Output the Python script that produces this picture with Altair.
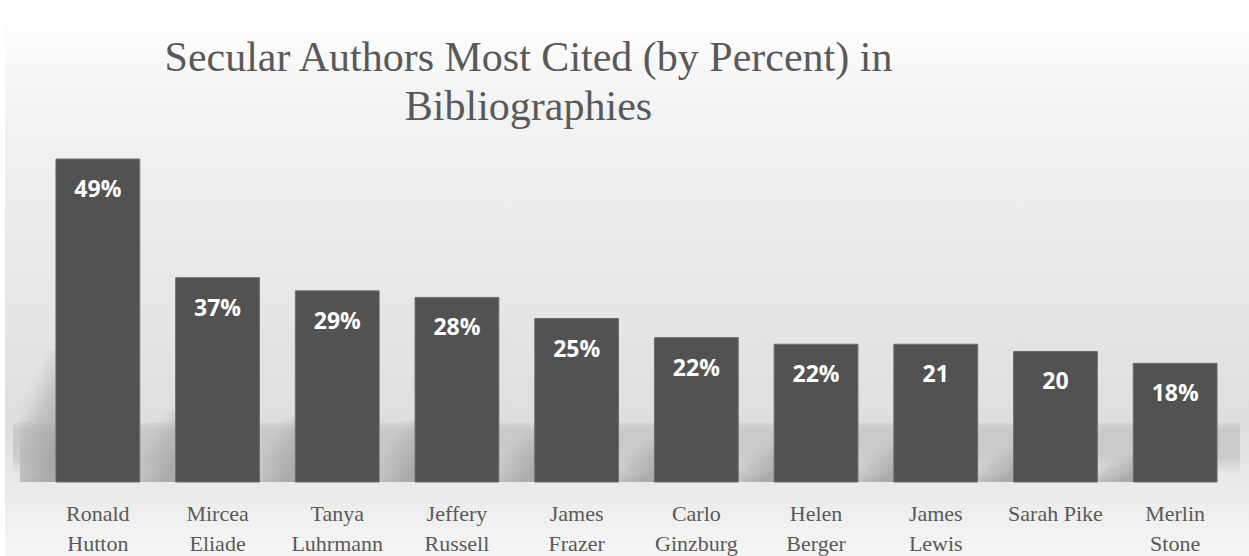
import altair as alt
import pandas as pd

authors = ["Ronald Hutton", "Mircea Eliade", "Tanya Luhrmann", "Jeffery Russell", "James Frazer",
           "Carlo Ginzburg", "Helen Berger", "James Lewis", "Sarah Pike", "Merlin Stone"]
values = [49, 31, 29, 28, 24.8, 21.9, 20.9, 20.9, 19.8, 18]
labels = ["49%", "37%", "29%", "28%", "25%", "22%", "22%", "21", "20", "18%"]

df = pd.DataFrame({"author": authors, "value": values, "label": labels})

W, H = 1197, 323
PL, PT = 38, 159

x = alt.X("author:N", sort=authors, title=None,
          scale=alt.Scale(paddingInner=0.3, paddingOuter=0.15),
          axis=alt.Axis(labelAngle=0, domain=False, ticks=False, labelPadding=21, zindex=2,
                        labelFont="Liberation Serif", labelFontSize=22, labelColor="#595959",
                        labelLineHeight=30, labelLimit=200,
                        labelExpr="datum.label == 'Sarah Pike' ? datum.label : split(datum.label, ' ')"))
y = alt.Y("value:Q", scale=alt.Scale(domain=[0, 49], nice=False, zero=True), axis=None)

base = alt.Chart(df)

bg = base.mark_rect(color=alt.LinearGradient(
    gradient="linear", x1=0, x2=0, y1=0, y2=1,
    stops=[alt.GradientStop(offset=0, color="#ffffff"),
           alt.GradientStop(offset=0.18, color="#f3f3f3"),
           alt.GradientStop(offset=0.55, color="#e6e6e6"),
           alt.GradientStop(offset=0.76, color="#dedede"),
           alt.GradientStop(offset=0.88, color="#ebebeb"),
           alt.GradientStop(offset=1, color="#f6f6f6")])).encode(
    x=alt.value(5 - PL), x2=alt.value(1249 - PL), y=alt.value(10 - PT), y2=alt.value(556 - PT))

band = base.mark_rect(color=alt.LinearGradient(
    gradient="linear", x1=0, x2=0, y1=0, y2=1,
    stops=[alt.GradientStop(offset=0, color="rgba(200,200,200,0)"),
           alt.GradientStop(offset=0.35, color="rgba(200,200,200,0.5)"),
           alt.GradientStop(offset=0.65, color="rgba(205,205,205,0.45)"),
           alt.GradientStop(offset=1, color="rgba(235,235,235,0)")])).encode(
    x=alt.value(-25), x2=alt.value(W + 5), y=alt.value(422 - PT), y2=alt.value(H - 4))

# soft shadow behind each bar, its height follows the bar through its own scale
shadow = base.mark_bar(width=40, xOffset=-58, color=alt.LinearGradient(
    gradient="linear", x1=0.1, y1=0, x2=0.7, y2=0.9,
    stops=[alt.GradientStop(offset=0, color="rgba(190,190,190,0)"),
           alt.GradientStop(offset=0.28, color="rgba(185,185,185,0)"),
           alt.GradientStop(offset=0.6, color="rgba(172,172,172,0.55)"),
           alt.GradientStop(offset=1, color="rgba(160,160,160,0.85)")])).encode(
    x=x,
    y=alt.Y("value:Q", scale=alt.Scale(domain=[9.1, 107], nice=False, zero=False, clamp=True),
            axis=None))

bars = base.mark_bar(color="#525252", stroke="#6e6e6e", strokeWidth=1).encode(x=x, y=y)

text = base.mark_text(dy=31, baseline="middle", align="center", color="white",
                      font="Open Sans", fontWeight="bold", fontSize=23).encode(
    x=x, y=y, text="label:N")

main = alt.layer(bars, text)

chart = alt.layer(bg, band, shadow, main).resolve_scale(y="independent").properties(
    width=W, height=H,
    title=alt.TitleParams(["Secular Authors Most Cited (by Percent) in", "Bibliographies"],
                          font="Liberation Serif", fontSize=42, fontWeight="normal",
                          color="#595959", anchor="middle", frame="group", dx=-108,
                          offset=-119, lineHeight=49, zindex=2),
    autosize=alt.AutoSizeParams(type="none"),
    padding={"left": PL, "top": PT, "right": 14, "bottom": 74},
    background="white",
).configure_view(stroke=None)

chart.save("out.html", embed_options={"renderer": "svg", "actions": False})
